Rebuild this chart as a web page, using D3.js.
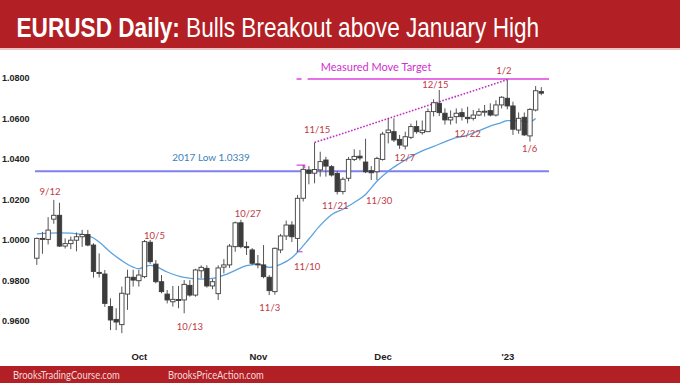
<!DOCTYPE html>
<html>
<head>
<meta charset="utf-8">
<script src="https://cdn.jsdelivr.net/npm/d3@7"></script>
<style>
  body { margin: 0; background: #fff; }
  svg { display: block; }
  .yAxisClass text { font: bold 9px "Liberation Sans", Arial, sans-serif; fill: #222; }
  .xAxisClass text { font: bold 9.5px "Liberation Sans Narrow", "Liberation Sans", Arial, sans-serif; fill: #222; }
  .note { font: 9.5px Lato, "Open Sans", sans-serif; fill: #c0393f; text-anchor: middle; }
</style>
</head>
<body>
<div id="chartDiv"></div>
<script>
// Daily bars, 9/7/2022 .. 1/10/2023
const dates = ["9/7","9/8","9/9","9/12","9/13","9/14","9/15","9/16","9/19","9/20",
  "9/21","9/22","9/23","9/26","9/27","9/28","9/29","9/30",
  "10/3","10/4","10/5","10/6","10/7","10/10","10/11","10/12","10/13","10/14",
  "10/17","10/18","10/19","10/20","10/21","10/24","10/25","10/26","10/27","10/28","10/31",
  "11/1","11/2","11/3","11/4","11/7","11/8","11/9","11/10","11/11","11/14",
  "11/15","11/16","11/17","11/18","11/21","11/22","11/23","11/24","11/25","11/28","11/29","11/30",
  "12/1","12/2","12/5","12/6","12/7","12/8","12/9","12/12","12/13","12/14",
  "12/15","12/16","12/19","12/20","12/21","12/22","12/23","12/26","12/27","12/28","12/29","12/30",
  "1/2","1/3","1/4","1/5","1/6","1/9","1/10"];

const opens = [0.9910,1.0008,1.0003,1.0103,1.0122,0.9970,0.9982,0.9999,1.0016,1.0027,
  0.9975,0.9840,0.9832,0.9671,0.9608,0.9582,0.9733,0.9816,
  0.9799,0.9819,0.9989,0.9881,0.9794,0.9733,0.9695,0.9706,0.9704,0.9776,
  0.9728,0.9848,0.9860,0.9773,0.9735,0.9866,0.9877,0.9967,1.0085,0.9967,0.9951,
  0.9882,0.9877,0.9816,0.9745,0.9951,1.0020,1.0074,1.0008,1.0206,1.0346,
  1.0330,1.0346,1.0395,1.0362,1.0329,1.0239,1.0305,1.0398,1.0414,1.0385,1.0342,1.0337,
  1.0398,1.0530,1.0535,1.0497,1.0464,1.0507,1.0560,1.0530,1.0535,1.0634,
  1.0675,1.0626,1.0593,1.0609,1.0629,1.0606,1.0601,1.0617,1.0634,1.0639,1.0617,1.0667,
  1.0700,1.0662,1.0543,1.0606,1.0514,1.0642,1.0733];

const highs = [1.0012,1.0040,1.0113,1.0198,1.0184,1.0008,1.0017,1.0037,1.0050,1.0050,
  0.9984,0.9934,0.9852,0.9712,0.9663,0.9770,0.9853,0.9853,
  0.9852,1.0000,1.0000,0.9901,0.9827,0.9753,0.9773,0.9773,0.9802,0.9802,
  0.9858,0.9875,0.9875,0.9807,0.9875,0.9906,0.9980,1.0091,1.0100,0.9992,0.9960,
  0.9926,0.9975,0.9827,0.9963,1.0030,1.0096,1.0093,1.0222,1.0370,1.0365,
  1.0481,1.0436,1.0411,1.0370,1.0340,1.0310,1.0410,1.0448,1.0444,1.0500,1.0365,1.0411,
  1.0534,1.0601,1.0601,1.0519,1.0535,1.0575,1.0590,1.0590,1.0650,1.0695,
  1.0741,1.0650,1.0640,1.0650,1.0650,1.0658,1.0642,1.0650,1.0667,1.0675,1.0690,1.0710,
  1.0792,1.0683,1.0630,1.0630,1.0651,1.0760,1.0755];

const lows = [0.9877,0.9932,0.9978,1.0080,0.9966,0.9958,0.9955,0.9944,0.9966,0.9969,
  0.9814,0.9815,0.9670,0.9555,0.9555,0.9540,0.9655,0.9770,
  0.9770,0.9811,0.9882,0.9786,0.9737,0.9687,0.9671,0.9663,0.9638,0.9720,
  0.9720,0.9811,0.9765,0.9757,0.9704,0.9835,0.9862,0.9942,0.9959,0.9926,0.9877,
  0.9860,0.9811,0.9728,0.9730,0.9935,1.0000,0.9990,0.9942,1.0190,1.0275,
  1.0280,1.0313,1.0313,1.0313,1.0225,1.0225,1.0290,1.0390,1.0393,1.0330,1.0296,1.0296,
  1.0392,1.0477,1.0484,1.0450,1.0447,1.0498,1.0525,1.0520,1.0535,1.0610,
  1.0612,1.0570,1.0570,1.0575,1.0590,1.0576,1.0590,1.0612,1.0610,1.0610,1.0610,1.0650,
  1.0645,1.0519,1.0525,1.0514,1.0486,1.0635,1.0715];

const closes = [1.0008,1.0003,1.0049,1.0122,0.9970,0.9982,0.9999,1.0016,1.0027,0.9975,
  0.9845,0.9837,0.9687,0.9605,0.9595,0.9737,0.9816,0.9802,
  0.9827,0.9992,0.9893,0.9794,0.9745,0.9704,0.9707,0.9702,0.9781,0.9728,
  0.9852,0.9865,0.9773,0.9794,0.9862,0.9877,0.9970,1.0085,0.9967,0.9964,0.9885,
  0.9877,0.9819,0.9750,0.9959,1.0020,1.0074,1.0016,1.0206,1.0349,1.0329,
  1.0348,1.0387,1.0365,1.0321,1.0239,1.0300,1.0398,1.0413,1.0405,1.0337,1.0332,1.0403,
  1.0523,1.0543,1.0494,1.0469,1.0510,1.0560,1.0535,1.0542,1.0634,1.0678,
  1.0629,1.0593,1.0606,1.0626,1.0609,1.0599,1.0617,1.0634,1.0636,1.0617,1.0667,1.0705,
  1.0662,1.0547,1.0601,1.0519,1.0645,1.0737,1.0725];

// 20 bar EMA at these bars
const emaBars = ["9/7","9/13","9/19","9/21","9/22","9/26","9/28","9/30","10/3","10/4",
  "10/5","10/6","10/10","10/13","10/18","10/20","10/24","10/26","10/28","11/1",
  "11/3","11/7","11/9","11/10","11/14","11/16","11/18","11/22","11/24","11/28",
  "11/30","12/2","12/6","12/8","12/12","12/14","12/16","12/20","12/22","12/26",
  "12/28","12/30","1/2","1/4","1/6","1/9"];
const emaValues = [1.0030,1.0035,1.0028,1.0010,0.9990,0.9940,0.9898,0.9866,0.9858,0.9868,
  0.9875,0.9868,0.9842,0.9815,0.9807,0.9810,0.9826,0.9850,0.9874,0.9880,
  0.9865,0.9880,0.9912,0.9940,1.0005,1.0072,1.0125,1.0152,1.0185,1.0225,
  1.0290,1.0340,1.0378,1.0412,1.0440,1.0462,1.0485,1.0505,1.0518,1.0540,
  1.0562,1.0580,1.0590,1.0590,1.0585,1.0600];

const yTicks = [0.96, 0.98, 1.00, 1.02, 1.04, 1.06, 1.08];
const monthStarts = ["10/3", "11/1", "12/1", "1/2"];
const monthLabels = ["Oct", "Nov", "Dec", "'23"];

const low2017 = 1.0339;
const mmTarget = 1.0795;
const trendFrom = "11/15", trendTo = "1/2";

// notes: text, bar position (in bars), price level
const noteText  = ["9/12","10/5","10/13","10/27","11/3","11/10","11/15","11/21","11/30","12/7","12/15","12/22","1/2","1/6"];
const noteBar   = [2.33, 20.76, 27.0, 37.25, 41.1, 47.7, 49.45, 52.65, 60.4, 64.95, 70.3, 76.0, 82.4, 86.95];
const notePrice = [1.0222, 1.0005, 0.9558, 1.0115, 0.9649, 0.9852, 1.0530, 1.0155, 1.0178, 1.0390, 1.0749, 1.0507, 1.0820, 1.0436];

// ---- setup
const W = 680, H = 383;
const plot = { left: 34, right: 549 };
const svg = d3.select("#chartDiv").append("svg").attr("width", W).attr("height", H);

const n = dates.length;
const x = d3.scaleLinear().domain([0, n - 1]).range([36.8, 541.3]);
const y = d3.scaleLinear().domain([0.96, 1.08]).range([321, 78]);
const bar = d => dates.indexOf(d);

// header band
svg.append("rect").attr("x", 0).attr("y", 0).attr("width", W).attr("height", 48).attr("fill", "#b21f24");
svg.append("rect").attr("x", 0).attr("y", 48).attr("width", W).attr("height", 2).attr("fill", "#ecc4c4");
const title = svg.append("text")
  .attr("fill", "#fff")
  .style("font-family", "'Liberation Sans', Arial, sans-serif")
  .style("font-size", "27px");
title.append("tspan").style("font-weight", "bold").text("EURUSD Daily:");
title.append("tspan").text(" Bulls Breakout above January High");
const tw = title.node().getComputedTextLength();
title.attr("transform", `translate(16.5,37) scale(${523 / tw},1)`);

// footer band
svg.append("rect").attr("x", 0).attr("y", 366).attr("width", W).attr("height", H - 366).attr("fill", "#b21f24");
[["BrooksTradingCourse.com", 13, 107], ["BrooksPriceAction.com", 168, 96]].forEach(f => {
  const t = svg.append("text")
    .attr("fill", "#f3dada")
    .style("font", "11px Lato, 'Open Sans', sans-serif")
    .text(f[0]);
  const w = t.node().getComputedTextLength();
  t.attr("transform", `translate(${f[1]},378.5) scale(${f[2] / w},1)`);
});

const gObj = svg.append("g").attr("class", "gWrapper");

// y axis
const yAxisG = gObj.append("g").attr("class", "yAxisClass")
  .attr("transform", "translate(29.5,0)")
  .call(d3.axisLeft(y).tickValues(yTicks).tickFormat(d3.format(".4f")).tickSize(0).tickPadding(0));
yAxisG.select(".domain").remove();

// x axis
const xAxisG = gObj.append("g").attr("class", "xAxisClass")
  .attr("transform", "translate(0,350)")
  .call(d3.axisBottom(x).tickValues(monthStarts.map(bar))
    .tickFormat((d, i) => monthLabels[i]).tickSize(0).tickPadding(3));
xAxisG.select(".domain").remove();

// 2017 low line
gObj.append("line")
  .attr("x1", plot.left + 1).attr("x2", plot.right)
  .attr("y1", y(low2017)).attr("y2", y(low2017))
  .attr("stroke", "#8080ee").attr("stroke-width", 2);
gObj.append("text")
  .attr("x", 211).attr("y", y(low2017) - 10.5)
  .attr("text-anchor", "middle")
  .attr("fill", "#3a7fb8")
  .style("font", "10px Lato, 'Open Sans', sans-serif")
  .text("2017 Low " + low2017.toFixed(4));

// measured move target
gObj.append("line")
  .attr("x1", x(bar("11/10")) - 1).attr("x2", plot.right)
  .attr("y1", y(mmTarget)).attr("y2", y(mmTarget))
  .attr("stroke", "#e040e0").attr("stroke-width", 1.3)
  .attr("stroke-dasharray", "5,6,1000");
gObj.append("text")
  .attr("x", 376).attr("y", y(mmTarget) - 8.5)
  .attr("text-anchor", "middle")
  .attr("fill", "#d030d0")
  .style("font", "11px Lato, 'Open Sans', sans-serif")
  .text("Measured Move Target");

// small markers on the 11/10 low and 11/11 high
const m1 = bar("11/10"), m2 = bar("11/11");
gObj.append("path")
  .attr("d", `M${x(m1) - 1},${y(lows[m1])} H${x(m1) + 5}`)
  .attr("stroke", "#e040e0").attr("stroke-width", 1.2).attr("fill", "none");
gObj.append("path")
  .attr("d", `M${x(m1) - 1},${y(highs[m2])} H${x(m2) + 1.5} V${y(highs[m2]) + 3}`)
  .attr("stroke", "#e040e0").attr("stroke-width", 1.2).attr("fill", "none");

// trend line over the highs
const t0 = bar(trendFrom), t1 = bar(trendTo);
gObj.append("line")
  .attr("x1", x(t0)).attr("y1", y(highs[t0]))
  .attr("x2", x(t1)).attr("y2", y(highs[t1]))
  .attr("stroke", "#c030c0").attr("stroke-width", 1.6)
  .attr("stroke-dasharray", "1.6,1.6");

// EMA
const emaLine = d3.line()
  .x(d => x(bar(d[0])))
  .y(d => y(d[1]))
  .curve(d3.curveMonotoneX);
gObj.append("path")
  .datum(emaBars.map((d, i) => [d, emaValues[i]]))
  .attr("d", emaLine)
  .attr("fill", "none")
  .attr("stroke", "#5aa2e0")
  .attr("stroke-width", 1.3);

// candles
const candles = gObj.selectAll("g.candle")
  .data(d3.range(n))
  .join("g").attr("class", "candle");

candles.append("line")
  .attr("x1", i => x(i)).attr("x2", i => x(i))
  .attr("y1", i => y(highs[i])).attr("y2", i => y(lows[i]))
  .attr("stroke", "#555").attr("stroke-width", 1);

candles.append("rect")
  .attr("x", i => x(i) - 2.2)
  .attr("width", 4.4)
  .attr("y", i => y(Math.max(opens[i], closes[i])))
  .attr("height", i => Math.max(1, Math.abs(y(opens[i]) - y(closes[i]))))
  .attr("fill", i => closes[i] >= opens[i] ? "#fff" : "#3c3c3c")
  .attr("stroke", "#3c3c3c")
  .attr("stroke-width", 0.9);

// date notes
gObj.selectAll("text.note")
  .data(noteText)
  .join("text").attr("class", "note")
  .attr("x", (d, i) => x(noteBar[i]))
  .attr("y", (d, i) => y(notePrice[i]))
  .text(d => d);
</script>
</body>
</html>
